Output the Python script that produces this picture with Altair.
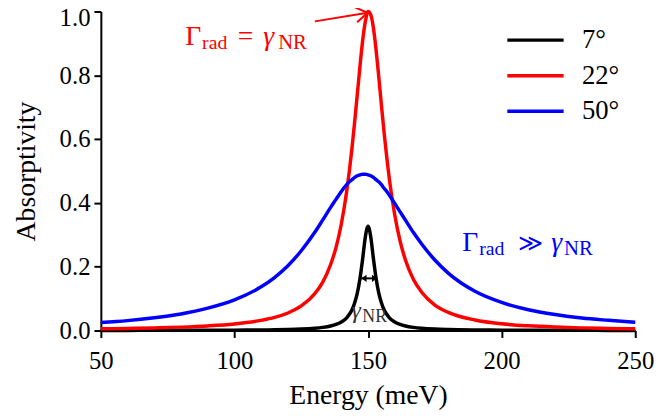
import altair as alt
import pandas as pd

# ---- data ----
energy = [50, 60, 70, 80, 90, 100, 110, 115, 120, 125,
          130, 133, 136, 138, 140, 142, 143, 144, 145, 146,
          147, 148, 149, 150, 151, 152, 153, 154, 155, 156,
          157, 158, 160, 162, 164, 167, 170, 175, 180, 190,
          200, 210, 220, 230, 240, 250]

abs_7 = [0.0003, 0.0004, 0.0005, 0.0006, 0.0008, 0.0012, 0.0018, 0.0024, 0.0032, 0.0046,
         0.0072, 0.0099, 0.0143, 0.0192, 0.027, 0.040, 0.051, 0.065, 0.087, 0.118,
         0.164, 0.226, 0.294, 0.327, 0.294, 0.226, 0.164, 0.118, 0.087, 0.065,
         0.051, 0.040, 0.027, 0.0192, 0.0143, 0.0099, 0.0072, 0.0046, 0.0032, 0.0018,
         0.0012, 0.0008, 0.0006, 0.0005, 0.0004, 0.0003]

abs_22 = [0.0053, 0.0065, 0.0082, 0.0107, 0.0145, 0.0206, 0.0318, 0.041, 0.055, 0.077,
          0.115, 0.151, 0.207, 0.260, 0.334, 0.436, 0.500, 0.573, 0.655, 0.742,
          0.830, 0.910, 0.969, 1.0, 0.99, 0.949, 0.880, 0.796, 0.707, 0.621,
          0.543, 0.473, 0.362, 0.280, 0.221, 0.160, 0.121, 0.080, 0.057, 0.033,
          0.021, 0.0147, 0.0109, 0.0083, 0.0066, 0.0053]

abs_50 = [0.025, 0.031, 0.040, 0.052, 0.070, 0.096, 0.137, 0.166, 0.203, 0.250,
          0.307, 0.346, 0.386, 0.411, 0.436, 0.457, 0.466, 0.473, 0.480, 0.485,
          0.488, 0.490, 0.490, 0.488, 0.485, 0.480, 0.473, 0.466, 0.457, 0.446,
          0.436, 0.424, 0.398, 0.372, 0.346, 0.307, 0.272, 0.221, 0.180, 0.123,
          0.088, 0.065, 0.050, 0.039, 0.032, 0.026]

series = ["7°", "22°", "50°"]
colors = ["#000000", "#ff0000", "#0000ff"]

x_ticks = [50, 100, 150, 200, 250]
y_ticks = [0.0, 0.2, 0.4, 0.6, 0.8, 1.0]

# FWHM marker of the 7° curve and the arrow to the 22° peak (data coordinates)
fwhm_left, fwhm_right, fwhm_level = 147.5, 153.4, 0.1635
arrow_start = (130.1, 0.969)
arrow_end = (149.8, 0.996)

FONT = "Liberation Serif"
SYM_FONT = "DejaVu Serif"

rows = []
for name, vals in zip(series, [abs_7, abs_22, abs_50]):
    for e, v in zip(energy, vals):
        rows.append({"Energy": e, "A": v, "angle": name})
df = pd.DataFrame(rows)

xs = alt.Scale(domain=[50, 250], nice=False, zero=False)
ys = alt.Scale(domain=[0, 1], nice=False)

lines = alt.Chart(df).mark_line(strokeWidth=3.5, interpolate="monotone").encode(
    x=alt.X("Energy:Q", scale=xs,
            axis=alt.Axis(values=x_ticks, format="d", title="Energy (meV)", labelFlush=False)),
    y=alt.Y("A:Q", scale=ys,
            axis=alt.Axis(values=y_ticks, format=".1f", title="Absorptivity", labelFlush=False,
                          labelOffset={"condition": {"test": "datum.value == 1", "value": 6}, "value": 0})),
    color=alt.Color("angle:N", sort=series,
                    scale=alt.Scale(domain=series, range=colors),
                    legend=alt.Legend(title=None, orient="none", legendX=424, legendY=13,
                                      symbolType="M-2,0L2,0", symbolSize=812,
                                      symbolStrokeWidth=3.5, labelFont=FONT,
                                      labelFontWeight="normal",
                                      labelFontSize=27, labelOffset=31,
                                      labelColor="black", rowPadding=7)),
    order=alt.Order("angle_order:Q"),
).transform_calculate(
    angle_order="indexof(['7°','22°','50°'], datum.angle)"
)


def txt(s, e, a, size, color, dx=0, dy=0, italic=False, font=FONT):
    d = pd.DataFrame({"Energy": [e], "A": [a], "t": [s]})
    return alt.Chart(d).mark_text(
        align="left", baseline="alphabetic", dx=dx, dy=dy, fontSize=size,
        font=font, color=color, fontWeight="normal",
        fontStyle="italic" if italic else "normal"
    ).encode(x=alt.X("Energy:Q", scale=xs), y=alt.Y("A:Q", scale=ys), text="t:N")


red_ann = [
    txt("Γ", 81.6, 0.895, 28, "#ff0000"),
    txt("rad", 81.6, 0.895, 20, "#ff0000", dx=17, dy=4),
    txt("=", 81.6, 0.895, 28, "#ff0000", dx=53),
    txt("γ", 81.6, 0.895, 28, "#ff0000", dx=79, italic=True),
    txt("NR", 81.6, 0.895, 21, "#ff0000", dx=94, dy=4),
]
blue_ann = [
    txt("Γ", 185.3, 0.248, 28, "#0000ff"),
    txt("rad", 185.3, 0.248, 20, "#0000ff", dx=17, dy=4),
    txt("≫", 185.3, 0.248, 24, "#0000ff", dx=56, font=SYM_FONT),
    txt("γ", 185.3, 0.248, 28, "#0000ff", dx=90, italic=True),
    txt("NR", 185.3, 0.248, 21, "#0000ff", dx=103, dy=4),
]
black_ann = [
    txt("γ", 143.8, 0.040, 24, "#333333", italic=True),
    txt("NR", 143.8, 0.040, 18, "#333333", dx=11, dy=4),
]

# arrow to the red peak
arr_df = pd.DataFrame({"Energy": [arrow_start[0]], "A": [arrow_start[1]],
                       "E2": [arrow_end[0]], "A2": [arrow_end[1]]})
arrow_line = alt.Chart(arr_df).mark_rule(color="#ff0000", strokeWidth=2).encode(
    x=alt.X("Energy:Q", scale=xs), y=alt.Y("A:Q", scale=ys), x2="E2:Q", y2="A2:Q")
arrow_head = alt.Chart(arr_df).mark_point(
    shape="M-1,-0.65L0,0L-1,0.65", filled=False, stroke="#ff0000", strokeWidth=2,
    size=576, angle=350.5, opacity=1
).encode(x=alt.X("E2:Q", scale=xs), y=alt.Y("A2:Q", scale=ys))

# FWHM double arrow
fw_df = pd.DataFrame({"Energy": [fwhm_left], "E2": [fwhm_right], "A": [fwhm_level]})
fw_line = alt.Chart(fw_df).mark_rule(color="black", strokeWidth=2).encode(
    x=alt.X("Energy:Q", scale=xs), x2="E2:Q", y=alt.Y("A:Q", scale=ys))
fw_left = alt.Chart(fw_df).mark_point(
    shape="M0,0L1,-0.7L1,0.7Z", filled=True, color="black", size=110, opacity=1
).encode(x=alt.X("Energy:Q", scale=xs), y=alt.Y("A:Q", scale=ys))
fw_right = alt.Chart(fw_df).mark_point(
    shape="M0,0L-1,-0.7L-1,0.7Z", filled=True, color="black", size=110, opacity=1
).encode(x=alt.X("E2:Q", scale=xs), y=alt.Y("A:Q", scale=ys))

chart = alt.layer(
    lines, arrow_line, arrow_head, fw_line, fw_left, fw_right,
    *red_ann, *blue_ann, *black_ann
).properties(
    width=541, height=323,
    autosize=alt.AutoSizeParams(type="none"),
    padding={"left": 94, "top": 1, "right": 20, "bottom": 84},
    background="white",
).configure(font=FONT).configure_view(stroke=None).configure_axis(
    grid=False, domainColor="black", domainWidth=2, tickColor="black", tickWidth=2,
    tickSize=7, labelFont=FONT, labelFontSize=25, labelColor="black",
    titleFont=FONT, titleFontSize=28, titleFontWeight="normal", titleColor="black",
).configure_axisX(labelPadding=11, titlePadding=9).configure_axisY(labelPadding=4, titlePadding=19)

chart.save("out.html", embed_options={"renderer": "svg", "actions": False})
